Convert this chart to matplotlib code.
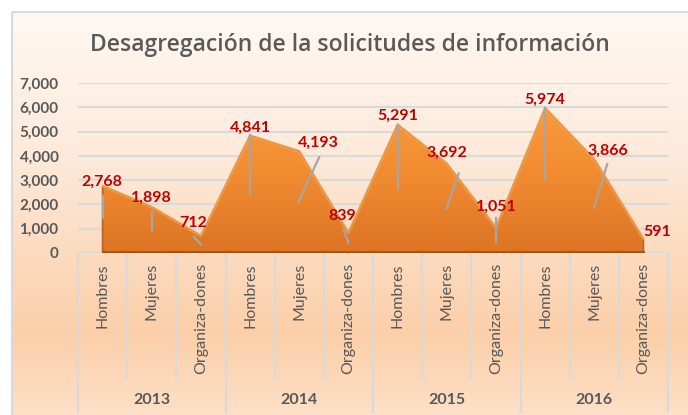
import numpy as np
import matplotlib
matplotlib.use("Agg")
import matplotlib.pyplot as plt
from matplotlib.colors import LinearSegmentedColormap
from matplotlib.patches import Polygon, Rectangle
from matplotlib.lines import Line2D
from matplotlib.transforms import IdentityTransform, blended_transform_factory

plt.rcParams["font.family"] = ["Lato", "DejaVu Sans"]

# data
years = ["2013", "2014", "2015", "2016"]
groups = ["Hombres", "Mujeres", "Organiza-dones"]
values = [2768, 1898, 712, 4841, 4193, 839, 5291, 3692, 1051, 5974, 3866, 591]
cats = [g for _ in years for g in groups]
yticks = [0, 1000, 2000, 3000, 4000, 5000, 6000, 7000]

# label offsets (pixels) and leader lines (pixel offsets from the point)
lab_off = [(-1, 4), (0, 9), (-8, 13), (0, 8), (19, 8), (-6, 17),
           (0, 9), (0, 11), (0, 21), (0, 8), (14, 8), (14, 7)]
leaders = [((0, -10), (0, -32)), ((0, -5), (0, -23)), ((-7, -1), (0, -9)),
           ((0, 0), (0, -60)), ((20, -6), (-1, -51)), ((-5, 3), (0, -10)),
           ((0, 0), (0, -64)), ((12, -10), (0, -45)), ((0, 9), (0, -15)),
           ((0, 0), (0, -72)), ((13, -5), (0, -48)), None]

W, H = 688, 415
fig = plt.figure(figsize=(W / 100, H / 100), dpi=100)

# background gradient for the chart area
bg = fig.add_axes([0, 0, 1, 1], zorder=-10)
bg.set_xlim(0, W)
bg.set_ylim(H, 0)
bg.axis("off")
bg_cmap = LinearSegmentedColormap.from_list(
    "bg", [(0, "#fff8f2"), (0.35, "#fdeadb"), (0.8, "#fbcfa9"), (1.0, "#fde0c7")])
grad = np.linspace(0, 1, 256).reshape(-1, 1)
bg.imshow(grad, cmap=bg_cmap, extent=[11.5, W + 2, H, 12.5], aspect="auto")
bg.add_patch(Rectangle((11.5, 12.5), W, H, fill=False, ec="#d9d9d9", lw=1.5))

ax = fig.add_axes([78 / W, 162 / H, 590 / W, 170 / H])
ax.patch.set_alpha(0)
x = np.arange(len(values))
ax.set_xlim(-0.5, len(values) - 0.5)
ax.set_ylim(0, 7000)
ax.set_yticks(yticks)
ax.set_yticklabels([f"{v:,}" for v in yticks], fontsize=11, fontweight="bold", color="#595959")
ax.tick_params(axis="y", length=0, pad=14)
ax.set_xticks([])
for s in ax.spines.values():
    s.set_visible(False)
for t in yticks:
    ax.axhline(t, color="#d9d9d9", lw=1.5, zorder=0)

# orange area with vertical gradient
xs = np.concatenate([[x[0]], x, [x[-1]]])
ys = np.concatenate([[0], values, [0]])
poly = Polygon(np.column_stack([xs, ys]), closed=True, fc="none", ec="#b8641f", lw=1.2, zorder=3)
ax.add_patch(poly)
area_cmap = LinearSegmentedColormap.from_list("area", ["#fb9a3c", "#f08a30", "#dc7424"])
im = ax.imshow(np.linspace(0, 1, 256).reshape(-1, 1), cmap=area_cmap, aspect="auto",
               extent=[x[0], x[-1], 0, 6000], zorder=2)
im.set_clip_path(poly)
ax.plot(x, values, color="#ffb868", lw=2, alpha=0.6, zorder=3, solid_capstyle="round")
ax.plot([x[0], x[-1]], [25, 25], color="#9c5418", lw=2, zorder=4)

ax.set_xlim(-0.5, len(values) - 0.5)
ax.set_ylim(0, 7000)

# leader lines and data labels
for i, v in enumerate(values):
    px, py = ax.transData.transform((x[i], v))
    if leaders[i] is not None:
        (a1, b1), (a2, b2) = leaders[i]
        fig.add_artist(Line2D([px + a1, px + a2], [py + b1, py + b2], transform=IdentityTransform(),
                              color="#a6a6a6", lw=1.6, zorder=5))
    ax.annotate(f"{v:,}", (x[i], v), xytext=lab_off[i], textcoords="offset pixels",
                ha="center", va="center", fontsize=11.5, fontweight="bold", color="#c00000", zorder=6)

# two-level category axis
tr = blended_transform_factory(ax.transData, ax.transAxes)
px_per_ax = 170
for i, c in enumerate(cats):
    ax.text(x[i], -10 / px_per_ax, c, transform=tr, rotation=90, ha="center", va="top",
            fontsize=11.5, color="#595959")
for k in range(len(values) + 1):
    bottom = -159 / px_per_ax if k % 3 == 0 else -125 / px_per_ax
    ax.plot([k - 0.5, k - 0.5], [0, bottom], transform=tr, color="#d9d9d9", lw=1.5, clip_on=False)
for j, yr in enumerate(years):
    ax.text(3 * j + 1, -147 / px_per_ax, yr, transform=tr, ha="center", va="center",
            fontsize=11.5, fontweight="bold", color="#595959")

fig.text(350 / W, 1 - 45 / H, "Desagregación de la solicitudes de información", ha="center", va="center",
         fontsize=16.5, fontweight="semibold", color="#595959", family=["Open Sans", "DejaVu Sans"])

fig.savefig("out.png", dpi=100)
